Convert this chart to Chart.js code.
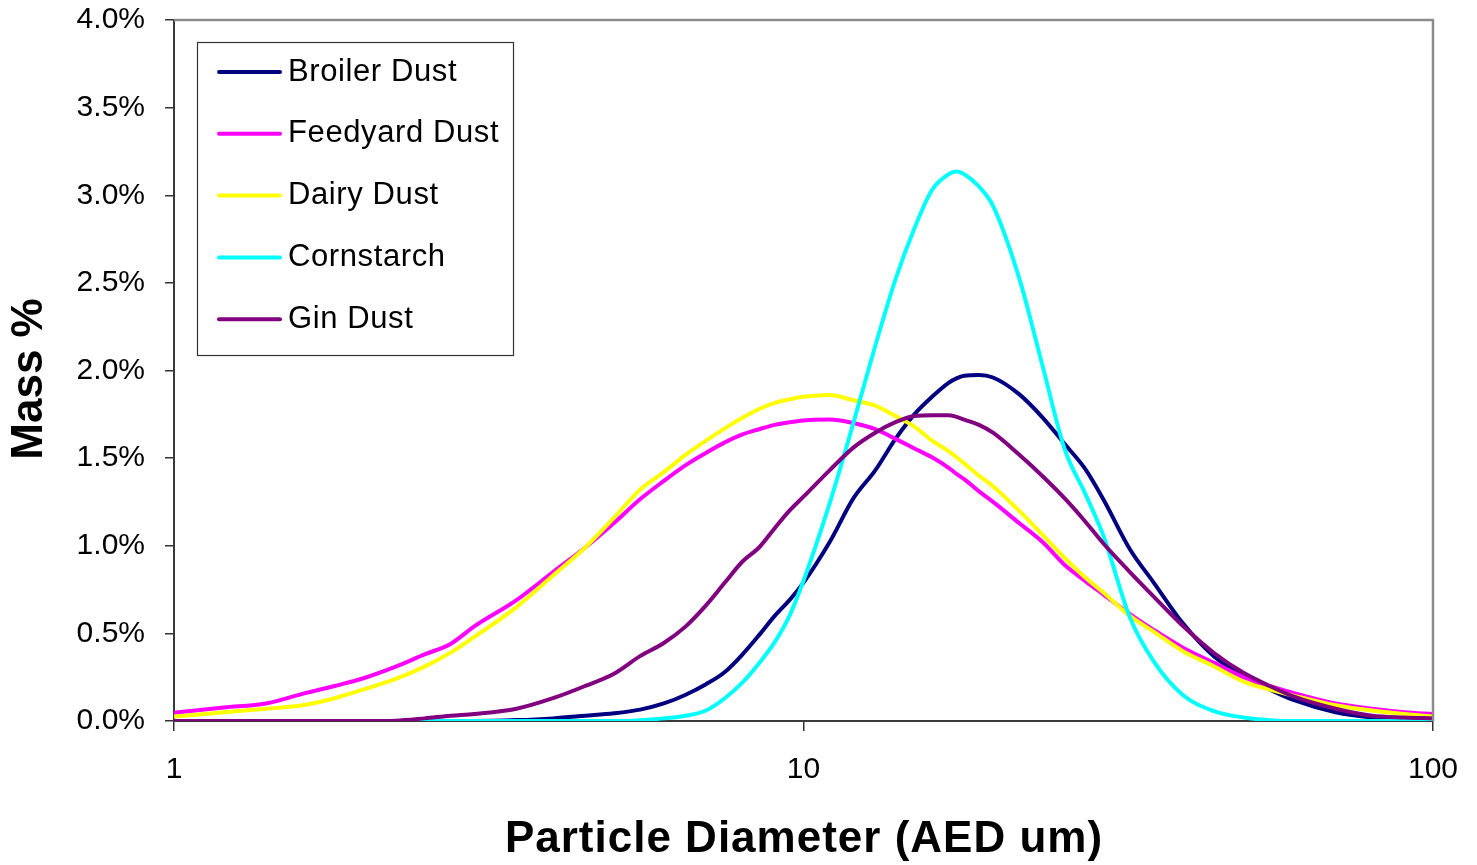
<!DOCTYPE html>
<html>
<head>
<meta charset="utf-8">
<script src="https://cdn.jsdelivr.net/npm/chart.js@4/dist/chart.umd.min.js"></script>
<style>
  html, body { margin: 0; padding: 0; background: #ffffff; }
  #wrap { width: 1477px; height: 865px; position: relative; }
</style>
</head>
<body>
<div id="wrap"><canvas id="c"></canvas></div>
<script>
// Particle diameter (AED, um)
const diameters = [1, 1.2, 1.4, 1.6, 1.8, 2, 2.25, 2.5, 2.75, 3, 3.5, 4, 4.5, 5, 5.5, 6, 6.5, 7, 7.5, 8, 8.5, 9, 9.5, 10,
  11, 12, 13, 14, 15, 16, 17, 17.5, 18, 19, 20, 22, 24, 26, 28, 30, 33, 36, 40, 45, 50, 55, 60, 70, 80, 90, 100];

// Mass % values per series
const broilerDust = [0, 0, 0, 0, 0, 0, 0, 0, 0, 0, 0.005, 0.015, 0.03, 0.044, 0.065, 0.10, 0.15, 0.21, 0.28, 0.38, 0.49, 0.60, 0.69, 0.79,
  1.02, 1.27, 1.43, 1.61, 1.75, 1.85, 1.93, 1.955, 1.97, 1.975, 1.96, 1.865, 1.73, 1.58, 1.44, 1.26, 0.98, 0.79, 0.56, 0.365, 0.26, 0.18, 0.12, 0.05, 0.02, 0.01, 0.005];
const feedyardDust = [0.047, 0.077, 0.10, 0.155, 0.20, 0.244, 0.31, 0.38, 0.44, 0.54, 0.69, 0.85, 0.99, 1.13, 1.265, 1.37, 1.46, 1.53, 1.59, 1.635, 1.665, 1.69, 1.705, 1.715,
  1.72, 1.70, 1.665, 1.61, 1.555, 1.505, 1.445, 1.41, 1.38, 1.31, 1.25, 1.13, 1.02, 0.89, 0.80, 0.72, 0.61, 0.52, 0.42, 0.33, 0.25, 0.20, 0.16, 0.10, 0.07, 0.05, 0.04];
const dairyDust = [0.025, 0.05, 0.07, 0.09, 0.13, 0.18, 0.24, 0.31, 0.39, 0.48, 0.65, 0.83, 0.99, 1.16, 1.32, 1.42, 1.52, 1.60, 1.67, 1.73, 1.78, 1.815, 1.835, 1.85,
  1.86, 1.83, 1.80, 1.74, 1.68, 1.60, 1.54, 1.505, 1.47, 1.40, 1.34, 1.20, 1.06, 0.93, 0.82, 0.73, 0.60, 0.51, 0.40, 0.31, 0.225, 0.18, 0.145, 0.09, 0.06, 0.04, 0.025];
const cornstarch = [0, 0, 0, 0, 0, 0, 0, 0, 0, 0, 0, 0, 0, 0, 0.005, 0.015, 0.03, 0.06, 0.13, 0.22, 0.33, 0.45, 0.60, 0.80,
  1.24, 1.70, 2.14, 2.52, 2.81, 3.03, 3.12, 3.135, 3.12, 3.05, 2.94, 2.53, 2.02, 1.55, 1.30, 1.05, 0.59, 0.34, 0.15, 0.055, 0.02, 0.005, 0, 0, 0, 0, 0];
const ginDust = [0, 0, 0, 0, 0, 0, 0.002, 0.015, 0.03, 0.04, 0.07, 0.13, 0.20, 0.27, 0.37, 0.445, 0.54, 0.66, 0.79, 0.91, 0.99, 1.10, 1.20, 1.28,
  1.43, 1.56, 1.645, 1.705, 1.74, 1.745, 1.745, 1.735, 1.72, 1.69, 1.645, 1.52, 1.395, 1.27, 1.14, 1.01, 0.85, 0.71, 0.545, 0.385, 0.275, 0.20, 0.14, 0.07, 0.03, 0.02, 0.015];

const seriesNames = ['Broiler Dust', 'Feedyard Dust', 'Dairy Dust', 'Cornstarch', 'Gin Dust'];
const seriesValues = [broilerDust, feedyardDust, dairyDust, cornstarch, ginDust];
const seriesColors = ['#000080', '#FF00FF', '#FFFF00', '#00FFFF', '#800080'];

const xTickValues = [1, 10, 100];
const yMax = 4.0;
const yStep = 0.5;
const xTitle = 'Particle Diameter (AED um)';
const yTitle = 'Mass %';

const FONT = '"Liberation Sans", Arial, Helvetica, sans-serif';

const datasets = seriesNames.map((name, s) => ({
  label: name,
  data: diameters.map((d, i) => ({ x: d, y: seriesValues[s][i] })),
  borderColor: seriesColors[s],
  backgroundColor: seriesColors[s],
  borderWidth: 4,
  pointRadius: 0,
  cubicInterpolationMode: 'monotone',
  fill: false,
  order: seriesNames.length - s
}));

const framePlugin = {
  id: 'frame',
  afterDatasetsDraw(chart) {
    const { ctx, chartArea: a } = chart;
    ctx.save();
    ctx.strokeStyle = '#8c8c8c';
    ctx.lineWidth = 2.5;
    ctx.beginPath();
    ctx.moveTo(a.left, a.top);
    ctx.lineTo(a.right, a.top);
    ctx.lineTo(a.right, a.bottom);
    ctx.stroke();
    ctx.restore();
  },
  afterDraw(chart) {
    const { ctx } = chart;
    ctx.save();
    // axis titles
    ctx.fillStyle = '#000';
    ctx.font = 'bold 44px ' + FONT;
    ctx.textAlign = 'center';
    ctx.textBaseline = 'middle';
    ctx.letterSpacing = '1px';
    ctx.fillText(xTitle, 804, 840);
    ctx.letterSpacing = '0px';
    ctx.translate(30, 379);
    ctx.rotate(-Math.PI / 2);
    ctx.fillText(yTitle, 0, 0);
    ctx.restore();

    // legend box
    ctx.save();
    const bx = 197, by = 42, bw = 316, bh = 313;
    ctx.fillStyle = '#fff';
    ctx.fillRect(bx, by, bw, bh);
    ctx.strokeStyle = '#333';
    ctx.lineWidth = 1.2;
    ctx.strokeRect(bx + 0.5, by + 0.5, bw, bh);
    ctx.font = '31px ' + FONT;
    ctx.letterSpacing = '0.6px';
    ctx.textAlign = 'left';
    ctx.textBaseline = 'middle';
    chart.data.datasets.forEach((ds, i) => {
      const y = 72 + i * 61.8;
      ctx.strokeStyle = ds.borderColor;
      ctx.lineWidth = 4;
      ctx.lineCap = 'round';
      ctx.beginPath();
      ctx.moveTo(219, y);
      ctx.lineTo(280, y);
      ctx.stroke();
      ctx.fillStyle = '#000';
      ctx.fillText(ds.label, 288, y);
    });
    ctx.restore();
  }
};

new Chart(document.getElementById('c'), {
  type: 'line',
  data: { datasets },
  options: {
    responsive: true,
    maintainAspectRatio: false,
    animation: false,
    layout: { padding: { top: 20, right: 44, left: 0, bottom: 0 } },
    plugins: { legend: { display: false }, tooltip: { enabled: false } },
    scales: {
      x: {
        type: 'logarithmic',
        min: 1,
        max: 100,
        afterBuildTicks(scale) { scale.ticks = xTickValues.map(v => ({ value: v, major: true })); },
        afterFit(scale) { scale.height = 144; scale.paddingLeft = 0; scale.paddingRight = 0; },
        ticks: {
          color: '#000',
          font: { family: FONT, size: 30 },
          padding: 21,
          maxRotation: 0,
          autoSkip: false,
          callback: v => String(v)
        },
        grid: { drawOnChartArea: false, drawTicks: true, tickLength: 10, color: '#333', lineWidth: 1.5 },
        border: { display: true, color: '#3a3a3a', width: 2 }
      },
      y: {
        min: 0,
        max: yMax,
        afterFit(scale) { scale.width = 174; scale.paddingTop = 0; scale.paddingBottom = 0; },
        ticks: {
          stepSize: yStep,
          color: '#000',
          font: { family: FONT, size: 30 },
          padding: 20,
          callback: v => v.toFixed(1) + '%'
        },
        grid: { drawOnChartArea: false, drawTicks: true, tickLength: 9, color: '#333', lineWidth: 1.5 },
        border: { display: true, color: '#3a3a3a', width: 2 }
      }
    }
  },
  plugins: [framePlugin]
});
</script>
</body>
</html>
